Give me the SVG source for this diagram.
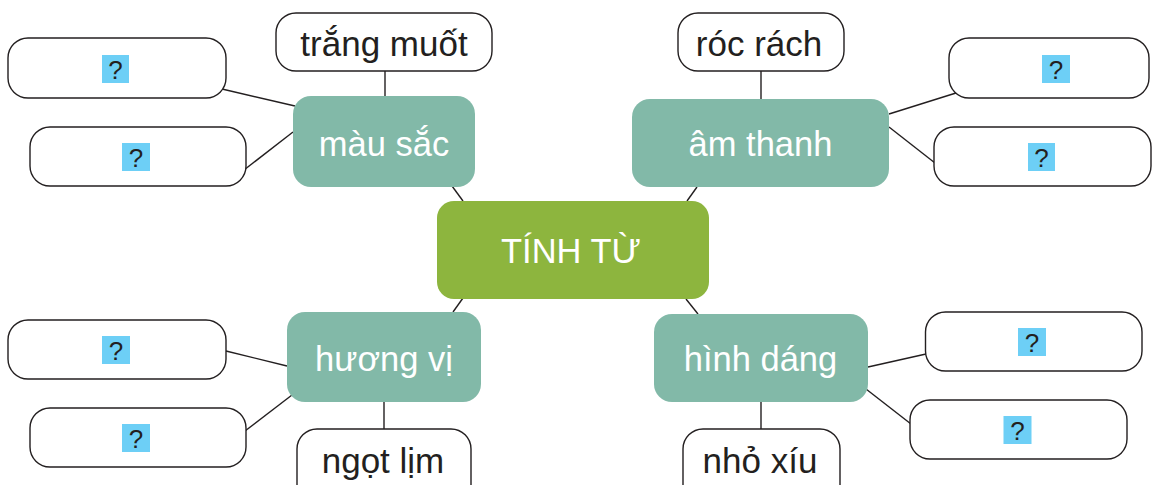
<svg xmlns="http://www.w3.org/2000/svg" width="1159" height="485" viewBox="0 0 1159 485">
<style>
.box{fill:#fff;stroke:#231f20;stroke-width:1.4}
.cat{fill:#82b9a8}
.core{fill:#8db53e}
.hl{fill:#6dcff6}
.lbl{font-family:"Liberation Sans",Arial,sans-serif;font-size:35px;fill:#231f20;text-anchor:middle}
.wl{font-family:"Liberation Sans",Arial,sans-serif;font-size:34.5px;fill:#fff;text-anchor:middle}
.q{font-family:"Liberation Sans",Arial,sans-serif;font-size:26px;fill:#231f20;text-anchor:middle}
.ln{stroke:#231f20;stroke-width:1.4;fill:none}
</style>
<rect width="1159" height="485" fill="#fff"/>
<g id="connectors" class="ln">
<line x1="385" y1="71" x2="385" y2="96"/>
<line x1="222" y1="89" x2="295" y2="106"/>
<line x1="244" y1="170" x2="293" y2="132"/>
<line x1="452" y1="186" x2="463" y2="201"/>
<line x1="761" y1="71" x2="761" y2="99"/>
<line x1="889" y1="114" x2="956" y2="93"/>
<line x1="889" y1="127" x2="935" y2="163"/>
<line x1="697" y1="187" x2="687" y2="201"/>
<line x1="463" y1="298" x2="453" y2="312"/>
<line x1="226" y1="351" x2="287" y2="366"/>
<line x1="245" y1="431" x2="292" y2="395"/>
<line x1="384" y1="402" x2="384" y2="429"/>
<line x1="686" y1="299" x2="698" y2="314"/>
<line x1="868" y1="367" x2="926" y2="354"/>
<line x1="866" y1="389" x2="911" y2="424"/>
<line x1="761" y1="402" x2="761" y2="429"/>
</g>
<g id="tinh-tu">
<rect class="core" x="437" y="201" width="272" height="98" rx="17"/>
<text class="wl" x="571" y="263" font-size="30">TÍNH TỪ</text>
</g>
<g id="mau-sac">
<rect class="cat" x="293" y="96" width="182" height="91" rx="18"/>
<text class="wl" x="384" y="156">màu sắc</text>
</g>
<g id="am-thanh">
<rect class="cat" x="632" y="99" width="257" height="88" rx="18"/>
<text class="wl" x="760.5" y="156">âm thanh</text>
</g>
<g id="huong-vi">
<rect class="cat" x="287" y="312" width="194" height="90" rx="18"/>
<text class="wl" x="384" y="371">hương vị</text>
</g>
<g id="hinh-dang">
<rect class="cat" x="654" y="314" width="214" height="88" rx="18"/>
<text class="wl" x="760.5" y="371">hình dáng</text>
</g>
<g id="trang-muot">
<rect class="box" x="276" y="13" width="216" height="58" rx="20"/>
<text class="lbl" x="384" y="56">trắng muốt</text>
</g>
<g id="roc-rach">
<rect class="box" x="678" y="13" width="166" height="58" rx="20"/>
<text class="lbl" x="759" y="56">róc rách</text>
</g>
<g id="ngot-lim">
<rect class="box" x="297" y="429" width="174" height="80" rx="20"/>
<text class="lbl" x="383" y="473">ngọt lịm</text>
</g>
<g id="nho-xiu">
<rect class="box" x="683" y="429" width="157" height="80" rx="20"/>
<text class="lbl" x="760" y="473">nhỏ xíu</text>
</g>
<g id="q-ms-1">
<rect class="box" x="8" y="38" width="218" height="60" rx="20"/>
<rect class="hl" x="102" y="55" width="27" height="28"/>
<text class="q" x="115.5" y="78.5">?</text>
</g>
<g id="q-ms-2">
<rect class="box" x="30" y="127" width="216" height="59" rx="20"/>
<rect class="hl" x="122" y="143" width="28" height="28"/>
<text class="q" x="136" y="166.5">?</text>
</g>
<g id="q-at-1">
<rect class="box" x="949" y="38" width="200" height="60" rx="20"/>
<rect class="hl" x="1042" y="55" width="28" height="28"/>
<text class="q" x="1056" y="78.5">?</text>
</g>
<g id="q-at-2">
<rect class="box" x="934" y="127" width="217" height="59" rx="20"/>
<rect class="hl" x="1028" y="143" width="27" height="28"/>
<text class="q" x="1041.5" y="166.5">?</text>
</g>
<g id="q-hv-1">
<rect class="box" x="8" y="320" width="218" height="59" rx="20"/>
<rect class="hl" x="102" y="336" width="28" height="28"/>
<text class="q" x="116" y="359.5">?</text>
</g>
<g id="q-hv-2">
<rect class="box" x="30" y="408" width="216" height="59" rx="20"/>
<rect class="hl" x="122" y="424" width="28" height="28"/>
<text class="q" x="136" y="447.5">?</text>
</g>
<g id="q-hd-1">
<rect class="box" x="925.5" y="312" width="216.5" height="59" rx="20"/>
<rect class="hl" x="1018" y="328" width="28" height="28"/>
<text class="q" x="1032" y="351.5">?</text>
</g>
<g id="q-hd-2">
<rect class="box" x="910" y="400" width="217" height="59" rx="20"/>
<rect class="hl" x="1003.5" y="416" width="28" height="28"/>
<text class="q" x="1017.5" y="439.5">?</text>
</g>
</svg>
